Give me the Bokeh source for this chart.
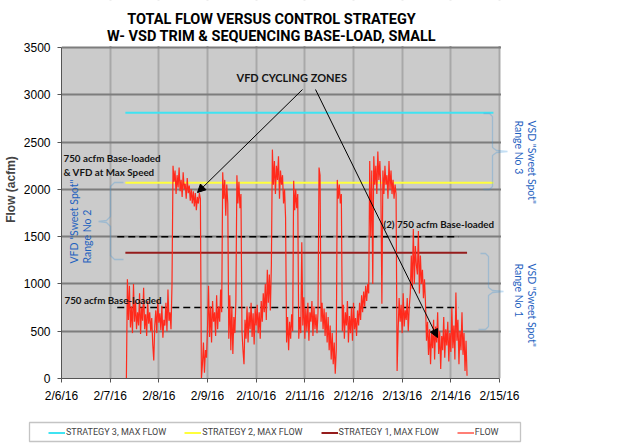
from math import pi
import pandas as pd
from bokeh.plotting import figure
from bokeh.models import (Range1d, FixedTicker, Label, Arrow, NormalHead, BoxAnnotation,
                          PolyAnnotation, Legend, LegendItem)
from bokeh.embed import file_html
from bokeh.resources import INLINE

# ---------------------------------------------------------------- data
tick_dates = ["2016-02-06", "2016-02-07", "2016-02-08", "2016-02-09", "2016-02-10",
              "2016-02-11", "2016-02-12", "2016-02-13", "2016-02-14", "2016-02-15"]
tick_labels = ["2/6/16", "2/7/16", "2/8/16", "2/9/16", "2/10/16",
               "2/11/16", "2/12/16", "2/13/16", "2/14/16", "2/15/16"]
y_ticks = [0, 500, 1000, 1500, 2000, 2500, 3000, 3500]

# total flow (acfm), 30-minute samples starting 2/7/16 08:00
flow_start = "2016-02-07 08:00"
flow_acfm = [
    0, 1050, 620, 980, 540, 760, 480, 1000, 600, 820, 520, 700,
    560, 900, 470, 750, 610, 960, 520, 680, 450, 820, 580, 700,
    500, 640, 360, 190, 560, 720, 480, 830, 590, 690, 510, 770,
    430, 620, 560, 800, 500, 940, 610, 700, 520, 1000,
    2250, 2080, 2200, 1950, 2150, 2020, 2230, 1980, 2100, 1920, 2180, 2000,
    2060, 1900, 2120, 1960, 2040, 1880, 2000, 1850, 1980, 1820, 1960, 1780,
    1920, 1850, 1960, 1900,
    0, 150, 380, 60, 300, 220,
    520, 980, 440, 760, 380, 820, 600, 700, 450, 880, 520, 760, 600, 940, 700,
    2180, 1900, 2100, 1720, 2050, 1850,
    420, 880, 300, 760, 260, 650, 480, 820,
    2150, 1850, 2080, 1800, 1950,
    500, 300, 150, 620, 420, 760, 380, 700, 520, 800, 440, 690, 360, 740, 560,
    780, 480, 700, 420, 820, 600, 900, 700, 1000, 620, 1150, 800, 1100, 720, 1200,
    2420, 2050, 2300, 1950, 2250, 2100, 2350, 1900, 2200, 2050, 2150, 1850, 2000, 1700,
    380, 650, 300, 600, 420, 680, 500,
    2090, 1780, 2000, 1800, 1950,
    420, 650, 480,
    1440,
    560, 860, 420, 740, 500, 800, 400, 700, 600, 820, 450, 760, 520, 680, 480, 700,
    2230, 2150,
    600, 800, 520, 740, 450, 700, 380, 650, 300, 560, 200, 480, 150, 380, 50, 300,
    2100, 1900, 2050, 1850, 1950,
    500, 780, 420, 700, 560, 820, 380, 660, 480, 750, 400, 800, 520, 640,
    450, 720, 560, 800, 620, 880, 700, 920, 760, 980, 820, 1000, 900,
    2300, 1500, 2200, 1000, 2350, 2050, 2250, 1950, 2400, 2100, 2300, 2000, 790,
    2200, 1950, 2250, 2050, 2150, 1900, 2300, 2000, 2200, 1950, 2100, 1900, 2050, 1950,
    80,
    500, 850, 600, 780, 480, 900, 550, 720, 620, 850, 500, 760, 900,
    1300, 950, 1580, 1000, 1400, 1200, 1100, 1560, 900, 1300, 1000, 1150, 850, 1050, 800,
    400, 600, 250, 520, 150, 480, 320, 620, 200, 550, 380, 700, 260, 500, 100, 450,
    300, 650, 220, 520, 350, 600, 180, 480, 280, 750, 320, 560, 200, 910, 400, 620,
    150, 500, 300, 700, 250, 480, 80, 400, 30,
]

# maximum flow of each control strategy and the period it is drawn over
strategy_names = ["STRATEGY 3, MAX FLOW", "STRATEGY 2, MAX FLOW", "STRATEGY 1, MAX FLOW"]
strategy_max = [2810, 2070, 1330]
strategy_from = ["2016-02-07 07:30", "2016-02-07 07:30", "2016-02-07 07:30"]
strategy_to = ["2016-02-14 21:00", "2016-02-14 21:00", "2016-02-14 08:00"]
strategy_colors = ["#3fe3f2", "#ffff3c", "#951c1c"]
flow_color = "#ff2a1c"

# base-loaded compressor levels (dashed)
base_levels = [1500, 750]
base_from = "2016-02-07 03:30"
base_to = "2016-02-14 03:45"


# ---------------------------------------------------------------- layout helpers
def ms(ts):
    return pd.Timestamp(ts).value / 1e6


W, H = 627, 445
H_LEG = 30                             # strip under the chart holding the legend
H_MAIN = H - H_LEG
L, R, T, B = 61, 499, 47, 378          # plot-area edges in canvas pixels
x_lo, x_hi = ms(tick_dates[0]), ms(tick_dates[-1])
y_lo, y_hi = y_ticks[0], y_ticks[-1]


def sx(px):
    """canvas pixel column -> x data value (ms)"""
    return x_lo + (px - L) * (x_hi - x_lo) / (R - L)


def sy(py):
    """canvas pixel row -> y data value"""
    return y_lo + (B - py) * (y_hi - y_lo) / (B - T)


# the frame reaches the top and right canvas edges so the title and the
# side notes can live inside it; the grey plot area is drawn as a box
p = figure(width=W, height=H_MAIN, x_axis_type="datetime",
           output_backend="svg", toolbar_location=None,
           x_range=Range1d(x_lo, sx(W)), y_range=Range1d(y_lo, sy(0)),
           min_border_left=L, min_border_right=0,
           min_border_top=0, min_border_bottom=H_MAIN - B)
p.outline_line_color = None
p.background_fill_color = "white"
p.border_fill_color = "white"

p.add_layout(BoxAnnotation(left=x_lo, right=x_hi, bottom=y_lo, top=y_hi,
                           fill_color="#cbcbcb", fill_alpha=1, line_color=None,
                           level="image"))

# ---------------------------------------------------------------- axes & grid
xticker = FixedTicker(ticks=[ms(d) for d in tick_dates])
yticker = FixedTicker(ticks=y_ticks)
p.xaxis.ticker = xticker
p.yaxis.ticker = yticker
p.xgrid.ticker = xticker
p.ygrid.ticker = yticker
p.xaxis.bounds = (x_lo, x_hi)
p.yaxis.bounds = (y_lo, y_hi)
p.xaxis.major_label_overrides = {ms(d): lab for d, lab in zip(tick_dates, tick_labels)}

p.xgrid.grid_line_color = "#a8a8a8"
p.xgrid.grid_line_width = 2
p.ygrid.grid_line_color = "#7d7d7d"
p.ygrid.grid_line_width = 2

# keep grid lines inside the plot area
p.add_layout(BoxAnnotation(left=sx(500.5), fill_color="white", fill_alpha=1,
                           line_color=None, level="underlay"))
p.add_layout(BoxAnnotation(bottom=sy(45.5), fill_color="white", fill_alpha=1,
                           line_color=None, level="underlay"))

for ax in (p.xaxis[0], p.yaxis[0]):
    ax.axis_line_color = "#555555"
    ax.major_tick_line_color = "#555555"
    ax.minor_tick_line_color = None
    ax.major_tick_in = 0
    ax.major_tick_out = 4
    ax.major_label_text_font = "Liberation Sans"
    ax.major_label_text_font_size = "12px"
    ax.major_label_text_color = "black"
p.yaxis.major_label_standoff = 7
p.xaxis.major_label_standoff = 6
p.yaxis.axis_label = "Flow (acfm)"
p.yaxis.axis_label_text_font = "Liberation Sans"
p.yaxis.axis_label_text_font_size = "12px"
p.yaxis.axis_label_text_font_style = "bold"
p.yaxis.axis_label_standoff = 3

# ---------------------------------------------------------------- series
for v, f, t, c in zip(strategy_max, strategy_from, strategy_to, strategy_colors):
    p.line(x=pd.to_datetime([f, t]), y=[v, v], line_color=c, line_width=2)

for lvl in base_levels:
    p.line(x=pd.to_datetime([base_from, base_to]), y=[lvl, lvl],
           line_color="black", line_width=1.5, line_dash="7 4")

flow_time = pd.date_range(flow_start, periods=len(flow_acfm), freq="30min")
p.line(x=flow_time, y=flow_acfm, line_color=flow_color, line_width=1.2)

# ---------------------------------------------------------------- title
for text, base in (("TOTAL FLOW VERSUS CONTROL STRATEGY", 18.5),
                   ("W- VSD TRIM & SEQUENCING BASE-LOAD, SMALL", 36)):
    p.add_layout(Label(x=sx(271), y=sy(base), text=text, text_align="center",
                       text_baseline="alphabetic", text_font="Roboto",
                       text_font_style="bold", text_font_size="14.5px", text_color="black"))

# ---------------------------------------------------------------- annotations
note_font = dict(text_font="Lato", text_font_style="bold",
                 text_color="#141414", text_baseline="middle", text_align="left")
for text, px, py, size in (("VFD CYCLING ZONES", 236, 77, "11px"),
                           ("750 acfm Base-loaded", 63, 157, "9.8px"),
                           ("& VFD at Max Speed", 63, 171, "9.8px"),
                           ("750 acfm Base-loaded", 64, 299, "9.8px"),
                           ("(2) 750 acfm Base-loaded", 383, 223, "9.8px")):
    p.add_layout(Label(x=sx(px), y=sy(py), text=text, text_font_size=size, **note_font))

for (x0, y0), (x1, y1) in (((302, 89), (197, 192)), ((315, 89), (437, 337))):
    p.add_layout(Arrow(x_start=sx(x0), y_start=sy(y0), x_end=sx(x1), y_end=sy(y1),
                       line_color="black", line_width=1,
                       end=NormalHead(size=8, fill_color="black", line_color="black")))

brace_color = "#3b96dc"
text_blue = "#1f62bf"


def brace(pts):
    """curly brace outline traced there and back so the closed path stays open-looking"""
    path = pts + pts[-2:0:-1]
    p.add_layout(PolyAnnotation(xs=[sx(a) for a, _ in path], ys=[sy(b) for _, b in path],
                                fill_color=None, line_color=brace_color, line_width=1.3))


brace([(123, 182), (114, 182), (110, 186), (110, 216), (106, 220), (98, 221),
       (106, 222), (110, 226), (110, 255), (114, 259), (123, 259)])
brace([(483, 113), (489, 113), (492, 116), (492, 147), (496, 150), (507, 151),
       (496, 152), (492, 155), (492, 186), (489, 189), (483, 189)])
brace([(480, 253), (485, 253), (488, 256), (488, 287), (492, 290), (503, 291),
       (492, 292), (488, 295), (488, 326), (485, 329), (478, 329)])

blue_font = dict(text_font="Lato", text_font_size="10.5px", text_color=text_blue,
                 text_baseline="middle", text_align="left")
for text, px, py, ang in (('VFD "Sweet Spot"', 73.3, 263, pi / 2),
                          ("Range No 2", 86.7, 263, pi / 2),
                          ('VSD "Sweet Spot"', 531.7, 120, -pi / 2),
                          ("Range No 3", 518.3, 120, -pi / 2),
                          ('VSD "Sweet Spot"', 531.7, 263, -pi / 2),
                          ("Range No 1", 518.3, 263, -pi / 2)):
    p.add_layout(Label(x=sx(px), y=sy(py), text=text, angle=ang, **blue_font))

# ---------------------------------------------------------------- legend strip
# data units of this strip are canvas pixels measured up from the page bottom
leg = figure(width=W, height=H_LEG, output_backend="svg", toolbar_location=None,
             x_range=Range1d(0, W), y_range=Range1d(0, H_LEG),
             x_axis_location=None, y_axis_location=None,
             min_border=0, min_border_left=0, min_border_right=0,
             min_border_top=0, min_border_bottom=0)
leg.grid.visible = False
leg.outline_line_color = None
leg.background_fill_color = "white"
leg.border_fill_color = "white"

leg.add_layout(BoxAnnotation(left=29, right=520, bottom=H - 441, top=H - 422,
                             fill_color="white", fill_alpha=1,
                             line_color="#3c3c3c", line_width=1.3))

# legend swatches: same styles as the chart lines, placed off the strip's range
swatches = [leg.line(x=[-20, -10], y=[-5, -5], line_color=c, line_width=2)
            for c in strategy_colors]
swatches.append(leg.line(x=[-20, -10], y=[-5, -5], line_color=flow_color, line_width=1.2))

legend = Legend(
    items=[LegendItem(label=n, renderers=[r])
           for n, r in zip(strategy_names + ["FLOW"], swatches)],
    orientation="horizontal", location=(48, H - 438.5),
    spacing=18, glyph_width=17, glyph_height=13, label_standoff=1,
    label_height=13, padding=0, margin=0,
    label_text_font="Roboto", label_text_font_size="9px",
    border_line_color=None, background_fill_alpha=0)
leg.add_layout(legend)

# two stacked roots, so the strip keeps its own full-width frame
open("out.html", "w").write(file_html([p, leg], INLINE))
